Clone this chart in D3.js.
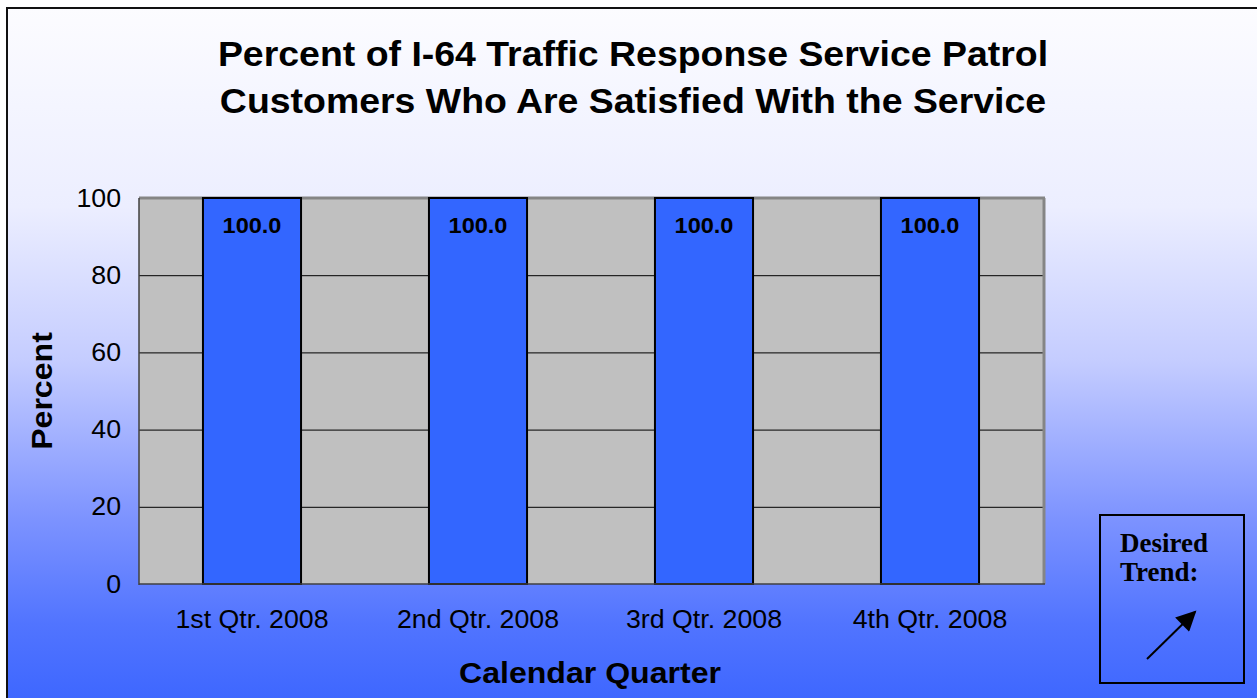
<!DOCTYPE html>
<html>
<head>
<meta charset="utf-8">
<script src="https://cdn.jsdelivr.net/npm/d3@7"></script>
<style>
  body { margin: 0; padding: 0; background: #fff; }
  svg { display: block; }
</style>
</head>
<body>
<div id="chart"></div>
<script>
// chart data
var quarters = ["1st Qtr. 2008", "2nd Qtr. 2008", "3rd Qtr. 2008", "4th Qtr. 2008"];
var satisfied = [100.0, 100.0, 100.0, 100.0];
var yTicks = [0, 20, 40, 60, 80, 100];
var titleLines = ["Percent of I-64 Traffic Response Service Patrol", "Customers Who Are Satisfied With the Service"];

var width = 1257, height = 698;
var margin = {left: 139, right: 214, top: 198, bottom: 114};
var stretch = 1.07; // the original text is a little wider than Arial

var svg = d3.select("div#chart")
  .append("svg")
  .attr("width", width)
  .attr("height", height);

// background gradient
var defs = svg.append("defs");
var grad = defs.append("linearGradient")
  .attr("id", "bg")
  .attr("x1", 0).attr("y1", 0).attr("x2", 0).attr("y2", 1);
grad.append("stop").attr("offset", "0%").attr("stop-color", "#fcfcff");
grad.append("stop").attr("offset", "28%").attr("stop-color", "#eceeff");
grad.append("stop").attr("offset", "50%").attr("stop-color", "#c4ccff");
grad.append("stop").attr("offset", "72%").attr("stop-color", "#7d93ff");
grad.append("stop").attr("offset", "87%").attr("stop-color", "#5174ff");
grad.append("stop").attr("offset", "100%").attr("stop-color", "#3a64ff");

svg.append("rect")
  .attr("x", 7).attr("y", 8)
  .attr("width", width + 10).attr("height", height + 10)
  .attr("fill", "url(#bg)")
  .attr("stroke", "#111")
  .attr("stroke-width", 2);

// title
svg.append("g")
  .selectAll("text")
  .data(titleLines)
  .enter()
  .append("text")
  .attr("transform", (d, i) => "translate(633," + (66 + i * 47) + ") scale(" + stretch + ",1)")
  .attr("text-anchor", "middle")
  .style("font-family", "'Liberation Sans', Arial, sans-serif")
  .style("font-weight", "bold")
  .style("font-size", "35px")
  .text(d => d);

var plotW = width - margin.left - margin.right;
var plotH = height - margin.top - margin.bottom;

var xScale = d3.scaleBand()
  .domain(quarters)
  .range([0, plotW])
  .paddingInner(0.566)
  .paddingOuter(0.283);

var xBand = d3.scaleBand().domain(quarters).range([0, plotW]);

var yScale = d3.scaleLinear()
  .domain([0, 100])
  .range([plotH, 0]);

var g = svg.append("g")
  .attr("transform", "translate(" + margin.left + "," + margin.top + ")");

// plot area
g.append("rect")
  .attr("x", 0).attr("y", 0)
  .attr("width", plotW).attr("height", plotH)
  .attr("fill", "#c0c0c0");

// gridlines
g.selectAll(".grid")
  .data(yTicks.filter(d => d > 0 && d < 100))
  .enter()
  .append("line")
  .attr("x1", 0).attr("x2", plotW)
  .attr("y1", d => yScale(d) + 0.5).attr("y2", d => yScale(d) + 0.5)
  .attr("stroke", "#000")
  .attr("stroke-width", 1);

// frame: grey top/right, dark left/bottom
g.append("line").attr("x1", 0).attr("x2", plotW + 2).attr("y1", 0).attr("y2", 0)
  .attr("stroke", "#858585").attr("stroke-width", 3);
g.append("line").attr("x1", plotW + 1).attr("x2", plotW + 1).attr("y1", 0).attr("y2", plotH)
  .attr("stroke", "#858585").attr("stroke-width", 3);

// bars
g.selectAll(".bar")
  .data(satisfied)
  .enter()
  .append("rect")
  .attr("class", "bar")
  .attr("x", (d, i) => xScale(quarters[i]))
  .attr("y", d => yScale(d))
  .attr("width", xScale.bandwidth())
  .attr("height", d => plotH - yScale(d))
  .attr("fill", "#3366ff")
  .attr("stroke", "#000")
  .attr("stroke-width", 2);

// bar labels
g.selectAll(".lbl")
  .data(satisfied)
  .enter()
  .append("text")
  .attr("transform", (d, i) => "translate(" + (xScale(quarters[i]) + xScale.bandwidth() / 2) + "," + (yScale(d) + 35) + ") scale(" + stretch + ",1)")
  .attr("text-anchor", "middle")
  .style("font-family", "'Liberation Sans', Arial, sans-serif")
  .style("font-weight", "bold")
  .style("font-size", "22px")
  .text(d => d.toFixed(1));

g.append("line").attr("x1", 0).attr("x2", 0).attr("y1", 0).attr("y2", plotH + 1)
  .attr("stroke", "#404040").attr("stroke-width", 1.5);
g.append("line").attr("x1", 0).attr("x2", plotW + 2).attr("y1", plotH).attr("y2", plotH)
  .attr("stroke", "#404040").attr("stroke-width", 1.5);

// y axis
var yAxis = d3.axisLeft(yScale)
  .tickValues(yTicks)
  .tickSize(0)
  .tickPadding(18);
var yG = g.append("g").call(yAxis);
yG.select(".domain").remove();
yG.selectAll("text")
  .attr("x", -18 / stretch)
  .attr("transform", "scale(" + stretch + ",1)")
  .style("font-family", "'Liberation Sans', Arial, sans-serif")
  .style("font-size", "25px")
  .attr("fill", "#000");

// x axis
var xAxis = d3.axisBottom(xBand)
  .tickSize(0)
  .tickPadding(26);
var xG = g.append("g")
  .attr("transform", "translate(0," + plotH + ")")
  .call(xAxis);
xG.select(".domain").remove();
xG.selectAll("text")
  .attr("transform", "scale(" + stretch + ",1)")
  .style("font-family", "'Liberation Sans', Arial, sans-serif")
  .style("font-size", "25px")
  .attr("fill", "#000");

// axis titles
svg.append("text")
  .attr("transform", "translate(590,683) scale(" + stretch + ",1)")
  .attr("text-anchor", "middle")
  .style("font-family", "'Liberation Sans', Arial, sans-serif")
  .style("font-weight", "bold")
  .style("font-size", "30px")
  .text("Calendar Quarter");

svg.append("text")
  .attr("transform", "translate(52,391) rotate(-90) scale(" + stretch + ",1)")
  .attr("text-anchor", "middle")
  .style("font-family", "'Liberation Sans', Arial, sans-serif")
  .style("font-weight", "bold")
  .style("font-size", "30px")
  .text("Percent");

// desired trend box
var trend = svg.append("g");
trend.append("rect")
  .attr("x", 1100).attr("y", 515)
  .attr("width", 144).attr("height", 168)
  .attr("fill", "none")
  .attr("stroke", "#000")
  .attr("stroke-width", 2);
trend.selectAll("text")
  .data(["Desired", "Trend:"])
  .enter()
  .append("text")
  .attr("x", 1120)
  .attr("y", (d, i) => 552 + i * 29)
  .style("font-family", "'Liberation Serif', 'Times New Roman', serif")
  .style("font-weight", "bold")
  .style("font-size", "27px")
  .text(d => d);

defs.append("marker")
  .attr("id", "arrow")
  .attr("viewBox", "0 0 10 10")
  .attr("refX", 9).attr("refY", 5)
  .attr("markerWidth", 22).attr("markerHeight", 20)
  .attr("markerUnits", "userSpaceOnUse")
  .attr("orient", "auto")
  .append("path")
  .attr("d", "M0,0 L10,5 L0,10 z")
  .attr("fill", "#000");

trend.append("line")
  .attr("x1", 1147).attr("y1", 659)
  .attr("x2", 1195).attr("y2", 612)
  .attr("stroke", "#000")
  .attr("stroke-width", 2)
  .attr("marker-end", "url(#arrow)");
</script>
</body>
</html>
